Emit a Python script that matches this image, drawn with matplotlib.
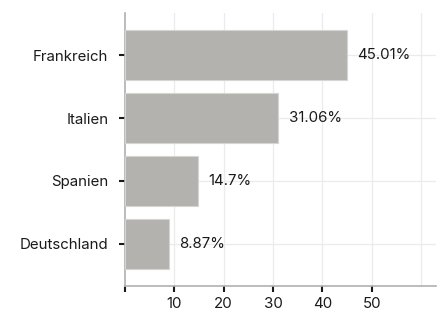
import matplotlib
matplotlib.use("Agg")
import matplotlib.pyplot as plt

plt.rcParams['font.family'] = ['Inter', 'DejaVu Sans']

countries = ["Frankreich", "Italien", "Spanien", "Deutschland"]
shares = [45.01, 31.06, 14.7, 8.87]
share_labels = ["45.01%", "31.06%", "14.7%", "8.87%"]
xticks = [0, 10, 20, 30, 40, 50]
xtick_labels = ["", "10", "20", "30", "40", "50"]
grid_x = [10, 20, 30, 40, 50, 60]

fig = plt.figure(figsize=(4.43, 3.16), dpi=100)
ax = fig.add_axes([125 / 443, 30 / 316, (436 - 125) / 443, (286 - 13) / 316])

pos = list(range(len(countries)))
ax.barh(pos, shares, height=0.8, color="#b3b2ae", edgecolor="#d6d5d2",
        linewidth=0.8, zorder=3)

for gx in grid_x:
    ax.axvline(gx, color="#ebebeb", linewidth=0.9, zorder=0)
for p in pos:
    ax.axhline(p, color="#ebebeb", linewidth=0.9, zorder=0)

for p, v, lab in zip(pos, shares, share_labels):
    ax.annotate(lab, (v, p), xytext=(7.5, 0), textcoords="offset points",
                va="center", ha="left", fontsize=10.8, color="#1a1a1a")

ax.set_xlim(0, 63)
ax.set_ylim(3.67, -0.67)
ax.set_yticks(pos)
ax.set_yticklabels(countries)
ax.set_xticks(xticks)
ax.set_xticklabels(xtick_labels)

for s in ["top", "right"]:
    ax.spines[s].set_visible(False)
for s in ["left", "bottom"]:
    ax.spines[s].set_color("#b0b0b0")
    ax.spines[s].set_linewidth(1.2)

ax.tick_params(axis="both", length=4, width=1.5, color="#1a1a1a",
               labelsize=10.8, labelcolor="#1a1a1a")
ax.tick_params(axis="y", pad=8)
ax.tick_params(axis="x", pad=4)

fig.savefig("out.png", dpi=100)
